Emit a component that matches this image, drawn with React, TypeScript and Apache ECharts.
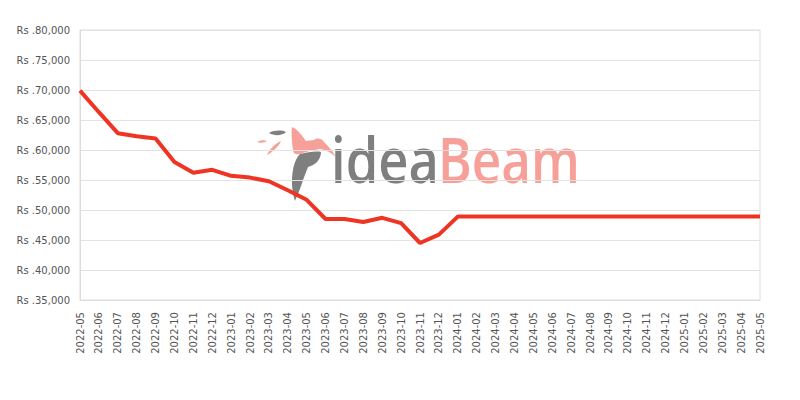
import React, { useEffect, useRef } from "react";
import * as echarts from "echarts";

const categories = [
  "2022-05", "2022-06", "2022-07", "2022-08", "2022-09", "2022-10", "2022-11", "2022-12",
  "2023-01", "2023-02", "2023-03", "2023-04", "2023-05", "2023-06", "2023-07", "2023-08",
  "2023-09", "2023-10", "2023-11", "2023-12", "2024-01", "2024-02", "2024-03", "2024-04",
  "2024-05", "2024-06", "2024-07", "2024-08", "2024-09", "2024-10", "2024-11", "2024-12",
  "2025-01", "2025-02", "2025-03", "2025-04", "2025-05",
];

const prices = [
  69900, 66300, 62800, 62300, 61900, 58000, 56200, 56700,
  55700, 55400, 54800, 53300, 51700, 48500, 48500, 48000,
  48700, 47800, 44500, 45900, 48900, 48900, 48900, 48900,
  48900, 48900, 48900, 48900, 48900, 48900, 48900, 48900,
  48900, 48900, 48900, 48900, 48900,
];

const yMin = 35000;
const yMax = 80000;
const yStep = 5000;

const SALMON = "#f7a099";
const GRAY = "#7f7f7f";

let registered = false;
function registerLogo() {
  if (registered) return;
  registered = true;
  const g: any = (echarts as any).graphic;
  g.registerShape(
    "ibBird",
    g.extendPath(
      "M292 127 C296 128 302 135 306 141 L314 140 C318 137 322 139 324 142 C328 146 332 150 336 157 C330 152 326 150 320 149 C312 150 305 152 300 154 C296 155 293 154 293 150 C292 142 291 133 292 127 Z",
      {}
    )
  );
  g.registerShape(
    "ibFeather",
    g.extendPath(
      "M300 154 C308 152 316 151 321 152 C321 159 316 165 308 167 L303 180 C300 190 297 196 295 201 C292 192 291 180 293 170 C294 163 297 157 300 154 Z",
      {}
    )
  );
  g.registerShape(
    "ibLeafGray",
    g.extendPath("M269 133 C274 130 282 130 286 132 C282 136 274 136 269 133 Z", {})
  );
  g.registerShape(
    "ibLeafS1",
    g.extendPath("M257 142 C260 140 264 140 267 141 C264 143 260 143 257 142 Z", {})
  );
  g.registerShape(
    "ibLeafS2",
    g.extendPath("M281 141 C279 146 273 152 267 155 C269 150 274 144 281 141 Z", {})
  );
}

export default function App() {
  const ref = useRef<HTMLDivElement>(null);
  useEffect(() => {
    if (!ref.current) return;
    registerLogo();
    const chart = echarts.init(ref.current, null, { renderer: "svg" });
    const fam = "DejaVu Sans";
    chart.setOption({
      animation: false,
      backgroundColor: "#ffffff",
      grid: {
        left: 80,
        right: 40,
        top: 30,
        bottom: 100,
        show: true,
        borderColor: "#dcdcdc",
        borderWidth: 1,
        containLabel: false,
      },
      graphic: {
        elements: [
          { type: "ibLeafGray", z: -1, style: { fill: GRAY } },
          { type: "ibLeafS1", z: -1, style: { fill: SALMON } },
          { type: "ibLeafS2", z: -1, style: { fill: SALMON } },
          { type: "ibBird", z: -1, style: { fill: SALMON } },
          { type: "ibFeather", z: -1, style: { fill: GRAY } },
          {
            type: "text",
            z: -1,
            x: 331,
            y: 126,
            scaleX: 0.82,
            style: {
              x: 0,
              y: 0,
              text: "idea",
              fill: GRAY,
              font: '600 64px "Open Sans"',
              textVerticalAlign: "top",
            },
          },
          {
            type: "text",
            z: -1,
            x: 438,
            y: 126,
            scaleX: 0.8,
            style: {
              x: 0,
              y: 0,
              text: "Beam",
              fill: SALMON,
              font: '600 64px "Open Sans"',
              textVerticalAlign: "top",
            },
          },
        ],
      },
      xAxis: {
        type: "category",
        data: categories,
        boundaryGap: false,
        axisLine: { show: true, lineStyle: { color: "#dcdcdc" } },
        axisTick: { show: false },
        axisLabel: {
          interval: 0,
          rotate: 90,
          margin: 12,
          color: "#555555",
          fontSize: 10,
          fontFamily: fam,
        },
        splitLine: { show: false },
      },
      yAxis: {
        type: "value",
        min: yMin,
        max: yMax,
        interval: yStep,
        axisLine: { show: true, lineStyle: { color: "#dcdcdc" } },
        axisTick: { show: false },
        axisLabel: {
          margin: 10,
          color: "#555555",
          fontSize: 10,
          fontFamily: fam,
          formatter: (v: number) => "Rs ." + v.toLocaleString("en-US"),
        },
        splitLine: { show: true, lineStyle: { color: "#e2e2e2", width: 1 } },
      },
      series: [
        {
          type: "line",
          data: prices,
          showSymbol: false,
          symbol: "none",
          lineStyle: { color: "#ee3524", width: 4 },
          itemStyle: { color: "#ee3524" },
          z: 5,
        },
      ],
    });
    return () => chart.dispose();
  }, []);
  return (
    <div
      ref={ref}
      style={{ position: "absolute", left: 0, top: 0, width: 800, height: 400 }}
    />
  );
}
